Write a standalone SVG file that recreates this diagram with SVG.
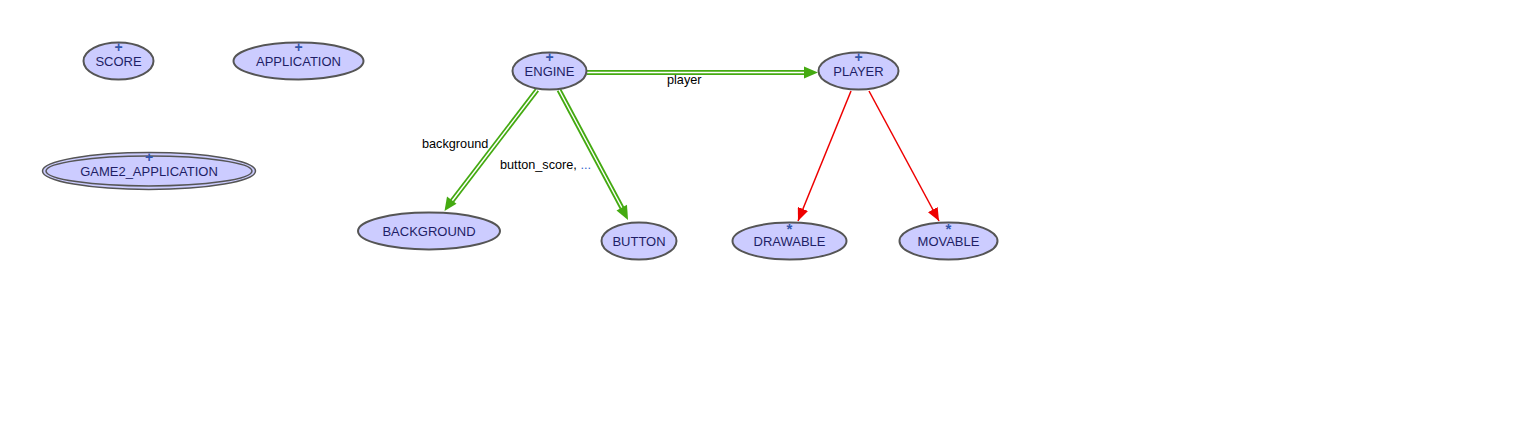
<svg xmlns="http://www.w3.org/2000/svg" width="1530" height="440" viewBox="0 0 1530 440">
<defs>
<style>
.n{fill:#ccccff;stroke:#555555;stroke-width:2}
.t{font-family:"Liberation Sans",Arial,sans-serif;font-size:13px;fill:#1e1e66;text-anchor:middle}
.s{font-family:"Liberation Sans",Arial,sans-serif;font-size:14px;font-weight:bold;fill:#3355aa;text-anchor:middle}
.a{font-family:"Liberation Sans",Arial,sans-serif;font-size:15px;font-weight:bold;fill:#3355aa;text-anchor:middle}
.l{font-family:"Liberation Sans",Arial,sans-serif;font-size:12.7px;fill:#000000}
.g{stroke:#44aa11;stroke-width:5;fill:none}
.gw{stroke:#ffffff;stroke-width:1.4;fill:none}
.r{stroke:#ee0000;stroke-width:1.5;fill:none}
</style>
<marker id="ar" markerWidth="13" markerHeight="11" refX="13" refY="5.5" orient="auto" markerUnits="userSpaceOnUse"><path d="M0,0 L13,5.5 L0,11 Z" fill="#ee0000"/></marker>
</defs>
<rect width="1530" height="440" fill="#ffffff"/>
<g id="connectors">
<g id="e-engine-player">
<line class="g" x1="587" y1="72.5" x2="806" y2="72.5"/>
<line class="gw" x1="587" y1="72.5" x2="806" y2="72.5"/>
<path d="M804,66.5 L818,72.5 L804,78.5 Z" fill="#44aa11"/>
<text class="l" x="667" y="84">player</text>
</g>
<g id="e-engine-background">
<line class="g" x1="537" y1="90" x2="452" y2="201"/>
<line class="gw" x1="537" y1="90" x2="452" y2="201"/>
<path d="M444.5,211 L447,196.5 L456.5,203.8 Z" fill="#44aa11"/>
<text class="l" x="422" y="148">background</text>
</g>
<g id="e-engine-button">
<line class="g" x1="559" y1="90" x2="622" y2="208"/>
<line class="gw" x1="559" y1="90" x2="622" y2="208"/>
<path d="M628,220 L616.5,210.5 L627,204.8 Z" fill="#44aa11"/>
<text class="l" x="500" y="169">button_score, <tspan fill="#3366cc">...</tspan></text>
</g>
<line id="e-player-drawable" class="r" x1="851" y1="91" x2="798" y2="221" marker-end="url(#ar)"/>
<line id="e-player-movable" class="r" x1="869" y1="91" x2="939" y2="221" marker-end="url(#ar)"/>
</g>
<g id="score"><ellipse class="n" cx="118.5" cy="61" rx="35" ry="18.5"/><text class="s" x="118.5" y="52">+</text><text class="t" x="118.5" y="66">SCORE</text></g>
<g id="application"><ellipse class="n" cx="298.5" cy="61" rx="65" ry="18.5"/><text class="s" x="298.5" y="52">+</text><text class="t" x="298.5" y="66">APPLICATION</text></g>
<g id="game2_application"><ellipse cx="149" cy="171" rx="106.5" ry="18.5" fill="#ccccff" stroke="#555555" stroke-width="1.5"/><ellipse cx="149" cy="171" rx="103" ry="15" fill="none" stroke="#555555" stroke-width="1.5"/><text class="s" x="149" y="162">+</text><text class="t" x="149" y="176">GAME2_APPLICATION</text></g>
<g id="engine"><ellipse class="n" cx="549.5" cy="71" rx="37" ry="18.5"/><text class="s" x="549.5" y="62">+</text><text class="t" x="549.5" y="76">ENGINE</text></g>
<g id="player"><ellipse class="n" cx="858.5" cy="71" rx="40" ry="18.5"/><text class="s" x="858.5" y="62">+</text><text class="t" x="858.5" y="76">PLAYER</text></g>
<g id="background"><ellipse class="n" cx="429" cy="231" rx="71" ry="18.5" stroke-width="3"/><text class="t" x="429" y="236">BACKGROUND</text></g>
<g id="button"><ellipse class="n" cx="639" cy="241" rx="37.5" ry="18.5"/><text class="t" x="639" y="246">BUTTON</text></g>
<g id="drawable"><ellipse class="n" cx="789.5" cy="241" rx="57" ry="18.5"/><text class="a" x="789.5" y="234">*</text><text class="t" x="789.5" y="246">DRAWABLE</text></g>
<g id="movable"><ellipse class="n" cx="948.5" cy="241" rx="49" ry="18.5"/><text class="a" x="948.5" y="234">*</text><text class="t" x="948.5" y="246">MOVABLE</text></g>
</svg>
